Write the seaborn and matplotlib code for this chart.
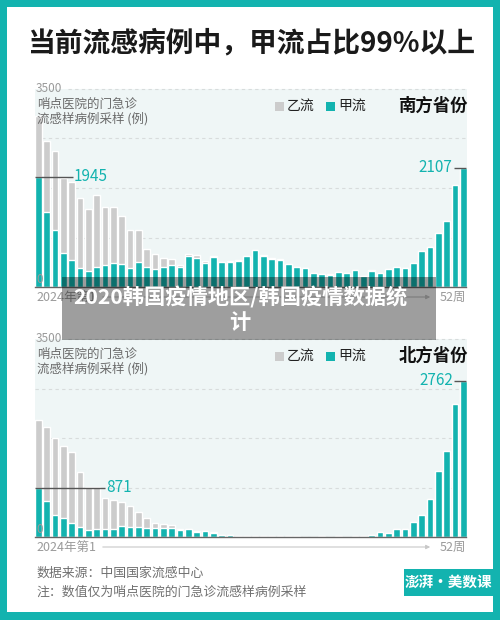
import numpy as np
import pandas as pd
import matplotlib
matplotlib.use("Agg")
import matplotlib.pyplot as plt
from matplotlib.patches import Rectangle
import seaborn as sns

# ---------------- data ----------------
weeks = list(range(1, 53))

south_jia = [1945, 1330, 1005, 597, 479, 337, 290, 349, 384, 426, 402, 337, 437,
             349, 319, 360, 390, 345, 544, 520, 426, 535, 443, 445, 467, 550,
             655, 556, 502, 485, 402, 355, 331, 254, 236, 219, 266, 248, 307,
             201, 290, 248, 325, 355, 331, 431, 632, 709, 963, 1164, 1803, 2107]
south_yi = [1085, 1253, 1400, 1336, 1377, 1235, 1087, 1276, 1023, 992, 851, 662, 562,
            331, 260, 154, 100, 39, 41, 38, 26, 17, 7, 7, 5, 5,
            3, 4, 18, 3, 2, 2, 2, 2, 2, 2, 2, 2, 2,
            2, 2, 2, 2, 2, 2, 2, 0, 0, 0, 0, 0, 0]

north_jia = [871, 638, 384, 331, 242, 171, 118, 136, 142, 142, 195, 183, 171,
             154, 154, 154, 154, 130, 136, 95, 100, 77, 41, 30, 24, 24,
             18, 15, 15, 12, 12, 10, 0, 8, 10, 5, 12, 8, 12,
             15, 41, 85, 62, 148, 148, 266, 393, 677, 1160, 1516, 2352, 2762]
north_yi = [1192, 1300, 1365, 1277, 1253, 981, 763, 745, 549, 514, 431, 361, 272,
            177, 88, 71, 53, 18, 12, 5, 12, 3, 1, 1, 0, 0,
            0, 0, 0, 0, 0, 0, 0, 0, 0, 0, 0, 0, 0,
            0, 0, 0, 0, 0, 0, 0, 0, 0, 0, 0, 0, 0]

panel_titles = ["南方省份", "北方省份"]
legend_labels = ["乙流", "甲流"]
y_max = 3500
grid_vals = [875, 1750, 2625, 3500]

# ---------------- style ----------------
sns.set_style("white")
plt.rcParams['font.family'] = ['Noto Sans CJK SC', 'DejaVu Sans']

TEAL = "#13b3af"
GRAY = "#cccccc"
BG = "#eff6f6"
W, H = 500, 620

fig = plt.figure(figsize=(5, 6.2), dpi=100)
fig.patch.set_facecolor(TEAL)


def fx(px):
    return px / W


def fy(py):
    return 1 - py / H


# white card
fig.patches.append(Rectangle((fx(7), fy(612)), fx(493) - fx(7), fy(7) - fy(612),
                             transform=fig.transFigure, facecolor="white",
                             edgecolor="none", zorder=-5))

fig.text(fx(251), fy(43), "当前流感病例中，甲流占比99%以上", ha="center", va="center",
         fontsize=20, fontweight="bold", color="#1a1a1a")

panels = [
    dict(jia=south_jia, yi=south_yi, top=89, title=panel_titles[0],
         left_val=south_jia[0], right_val=south_jia[-1], left_end=4.15),
    dict(jia=north_jia, yi=north_yi, top=339, title=panel_titles[1],
         left_val=north_jia[0], right_val=north_jia[-1], left_end=8.0),
]

AX_L, AX_R = 35, 466.5
for p in panels:
    top = p["top"]
    bottom = top + 198
    ax = fig.add_axes([fx(AX_L), fy(bottom), fx(AX_R) - fx(AX_L), (198) / H])
    ax.set_facecolor(BG)
    df = pd.DataFrame({"week": [str(w) for w in weeks],
                       "jia": p["jia"], "yi": p["yi"]})
    df["total"] = df["jia"] + df["yi"]
    sns.barplot(data=df, x="week", y="total", color=GRAY, width=0.8, saturation=1,
                errorbar=None, ax=ax, zorder=2)
    sns.barplot(data=df, x="week", y="jia", color=TEAL, width=0.8, saturation=1,
                errorbar=None, ax=ax, zorder=3)
    ax.set_xlim(-0.4, 51.4)
    ax.set_ylim(0, y_max)
    ax.set_xlabel("")
    ax.set_ylabel("")
    ax.set_xticks([])
    ax.set_yticks([])
    for s in ["top", "left", "right"]:
        ax.spines[s].set_visible(False)
    ax.spines["bottom"].set_color("#666666")
    ax.spines["bottom"].set_linewidth(1.0)
    ax.spines["bottom"].set_zorder(5)
    for g in grid_vals[:-1]:
        ax.axhline(g, color="#d8dcdc", lw=0.8, ls=(0, (3, 3)), zorder=1)
    ax.axhline(grid_vals[-1], xmin=(68 - AX_L) / (AX_R - AX_L), xmax=1,
               color="#d8dcdc", lw=0.8, ls=(0, (3, 3)), zorder=1, clip_on=False)

    # y labels
    fig.text(fx(36), fy(top), "3500", ha="left", va="center", fontsize=8.5,
             color="#9a9a9a")
    fig.text(fx(36), fy(bottom - 1), "0", ha="left", va="bottom", fontsize=8.5,
             color="#9a9a9a", zorder=6)
    fig.text(fx(37), fy(top + 15), "哨点医院的门急诊", ha="left", va="center",
             fontsize=9, color="#6a6a6a")
    fig.text(fx(37), fy(top + 30), "流感样病例采样 (例)", ha="left", va="center",
             fontsize=9, color="#6a6a6a")

    # legend + panel title
    ly = top + 17
    fig.patches.append(Rectangle((fx(275), fy(ly + 4.5)), 8.5 / W, 9 / H,
                                 transform=fig.transFigure, facecolor=GRAY,
                                 edgecolor="none", zorder=5))
    fig.text(fx(287), fy(ly), legend_labels[0], ha="left", va="center",
             fontsize=10, color="#222222")
    fig.patches.append(Rectangle((fx(326), fy(ly + 4.5)), 8.5 / W, 9 / H,
                                 transform=fig.transFigure, facecolor=TEAL,
                                 edgecolor="none", zorder=5))
    fig.text(fx(338), fy(ly), legend_labels[1], ha="left", va="center",
             fontsize=10, color="#222222")
    fig.text(fx(468), fy(ly), p["title"], ha="right", va="center",
             fontsize=12.5, fontweight="bold", color="#111111")

    # annotations
    lv = p["left_val"]
    ax.plot([-0.4, p["left_end"]], [lv, lv], color="#555555", lw=1, zorder=6,
            solid_capstyle="butt")
    ax.text(p["left_end"] + 0.1, lv, f"{lv}", ha="left", va="center",
            fontsize=11, color=TEAL, zorder=6)
    rv = p["right_val"]
    ax.plot([49.85, 51.4], [rv, rv], color="#555555", lw=1, zorder=6,
            solid_capstyle="butt", clip_on=False)
    ax.text(49.75, rv, f"{rv}", ha="right", va="center", fontsize=11,
            color=TEAL, zorder=6)

    # x axis captions
    fig.text(fx(36), fy(bottom + 10), "2024年第1", ha="left", va="center",
             fontsize=9, color="#9a9a9a")
    fig.text(fx(466), fy(bottom + 10), "52周", ha="right", va="center",
             fontsize=9, color="#9a9a9a")
    fig.add_artist(matplotlib.patches.FancyArrowPatch(
        (fx(100), fy(bottom + 10)), (fx(433), fy(bottom + 10)),
        transform=fig.transFigure, arrowstyle="-|>", mutation_scale=6,
        color="#c8c8c8", lw=0.8))

# footer
fig.text(fx(36), fy(573), "数据来源：中国国家流感中心", ha="left", va="center",
         fontsize=9.3, color="#707070")
fig.text(fx(36), fy(592), "注：数值仅为哨点医院的门急诊流感样病例采样", ha="left",
         va="center", fontsize=9.3, color="#707070")
fig.patches.append(Rectangle((fx(404), fy(596)), 96 / W, 27 / H,
                             transform=fig.transFigure, facecolor=TEAL,
                             edgecolor="none", zorder=5))
fig.text(fx(448), fy(582), "澎湃·美数课", ha="center", va="center",
         fontsize=10.5, fontweight="bold", color="white", zorder=6)

# overlay banner
fig.patches.append(Rectangle((fx(62), fy(340)), (436 - 62) / W, 63 / H,
                             transform=fig.transFigure, facecolor="black",
                             alpha=0.38, edgecolor="none", zorder=20))
fig.text(fx(240), fy(297), "2020韩国疫情地区/韩国疫情数据统", ha="center",
         va="center", fontsize=15.3, fontweight="bold", color="white", zorder=21)
fig.text(fx(240), fy(322), "计", ha="center", va="center", fontsize=15.3,
         fontweight="bold", color="white", zorder=21)

fig.savefig("out.png", dpi=100, facecolor=fig.get_facecolor())
